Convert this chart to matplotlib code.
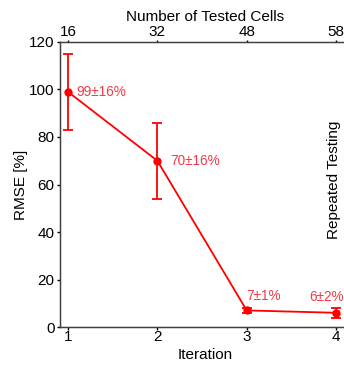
import matplotlib
matplotlib.use('Agg')
import matplotlib.pyplot as plt
import numpy as np

plt.rcParams['font.family'] = ['Liberation Sans', 'DejaVu Sans']

# data
iterations = [1, 2, 3, 4]
rmse = [99, 70, 7, 6]
rmse_err = [16, 16, 1, 2]
n_cells = ['16', '32', '48', '58']
labels = ['99±16%', '70±16%', '7±1%', '6±2%']

fig = plt.figure(figsize=(3.44, 3.65), dpi=100)
ax = fig.add_axes([0.1744, 0.104, 0.8414, 0.781])

ax.errorbar(iterations, rmse, yerr=rmse_err, color='red', lw=1.3,
            marker='o', ms=5, capsize=3.6, capthick=1.3, elinewidth=1.3)

txt_col = '#f03a48'
ax.text(iterations[0] + 0.09, rmse[0], labels[0], color=txt_col, fontsize=9.8, va='center', ha='left')
ax.text(iterations[1] + 0.14, rmse[1], labels[1], color=txt_col, fontsize=9.8, va='center', ha='left')
ax.text(iterations[2] - 0.005, rmse[2] + 6, labels[2], color=txt_col, fontsize=9.8, va='center', ha='left')
ax.text(iterations[3] + 0.085, rmse[3] + 6.5, labels[3], color=txt_col, fontsize=9.8, va='center', ha='right')

ax.text(3.975, 62, 'Repeated Testing', rotation=90, fontsize=11, va='center', ha='center')

ax.set_xlim(0.91, 4.15)
ax.set_ylim(0, 120)
ax.set_xticks(iterations)
ax.set_yticks(np.arange(0, 121, 20))
ax.set_xlabel('Iteration', fontsize=11, labelpad=2.8)
ax.set_ylabel('RMSE [%]', fontsize=11, labelpad=0.5)
ax.tick_params(labelsize=11, length=2, width=1, colors='black')
ax.tick_params(axis='x', pad=0.2)
ax.tick_params(axis='y', pad=2)

for s in ['left', 'bottom', 'top', 'right']:
    ax.spines[s].set_color('#404040')
    ax.spines[s].set_linewidth(1)

top = ax.twiny()
top.set_xlim(ax.get_xlim())
top.set_xticks(iterations)
top.set_xticklabels(n_cells)
top.set_xlabel('Number of Tested Cells', fontsize=11, labelpad=2.8)
top.tick_params(labelsize=11, length=1.5, width=1, pad=0.5)
for s in ['left', 'bottom', 'top', 'right']:
    top.spines[s].set_color('#404040')

fig.savefig('out.png', dpi=100)
